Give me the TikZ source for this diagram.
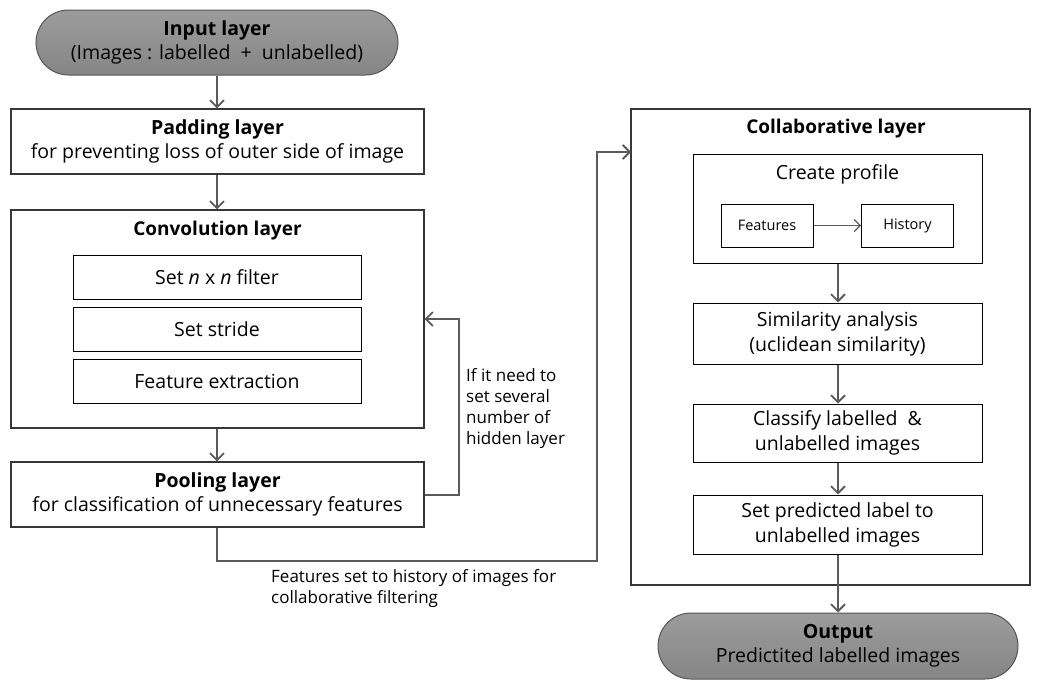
\documentclass[tikz,border=0pt]{standalone}
\usepackage{fontspec}
\setmainfont{Open Sans}
\usepackage{tikz}
\usetikzlibrary{arrows,arrows.meta,positioning,shapes.misc}
\definecolor{myline}{RGB}{90,90,90}
\definecolor{myborder}{RGB}{55,55,55}
\definecolor{mypill}{RGB}{145,145,145}
\tikzstyle{layer}=[draw=myborder,line width=1.2pt,minimum width=413pt,inner sep=0pt,align=center,font=\fontsize{19.5}{24}\selectfont]
\tikzstyle{subbox}=[draw=black,line width=1pt,minimum width=288pt,minimum height=44pt,inner sep=0pt,align=center,font=\fontsize{19.5}{25}\selectfont]
\tikzstyle{smallbox}=[draw=black,line width=1pt,minimum width=92pt,minimum height=43pt,inner sep=0pt,font=\fontsize{14.5}{18}\selectfont]
\tikzstyle{pill}=[rounded rectangle,draw=myborder!85,line width=1pt,top color=mypill!90,bottom color=mypill!92!black,inner sep=0pt,align=center,font=\fontsize{19.5}{24}\selectfont]
\tikzstyle{title}=[font=\fontsize{19}{22}\selectfont\bfseries]
\tikzstyle{note}=[inner sep=0pt,align=left,font=\fontsize{17}{21}\selectfont]
\tikzstyle{flow}=[myline,line width=2pt,-{Straight Barb[length=7pt,width=14pt,line width=1.8pt]}]

\begin{document}
\begin{tikzpicture}[x=1pt,y=-1pt]
\useasboundingbox (0,0) rectangle (1063,696);
% left column
\node [pill,minimum width=362pt,minimum height=65pt] (input) at (217,42.5) {\textbf{Input layer}\\(Images : labelled \ + \ unlabelled)};
\node [layer,minimum height=65pt] (padding) at (217.5,141.5) {\textbf{Padding layer}\\for preventing loss of outer side of image};
\node [layer,minimum height=218pt] (conv) at (217.5,319) {};
\node [title] (convtitle) at (217.5,231) {Convolution layer};
\node [subbox] (filter) at (217,277) {Set \textit{n} x \textit{n} filter};
\node [subbox] (stride) at (217,329) {Set stride};
\node [subbox] (extract) at (217,381) {Feature extraction};
\node [layer,minimum height=65pt] (pool) at (217.5,494.5) {\textbf{Pooling layer}\\for classification of unnecessary features};
% right column
\node [layer,minimum width=399pt,minimum height=476pt] (collab) at (830.5,347) {};
\node [title] (collabtitle) at (836,129) {Collaborative layer};
\node [subbox,minimum width=289pt,minimum height=109pt] (profile) at (837.5,208.5) {};
\node [font=\fontsize{19.5}{22}\selectfont] (profiletitle) at (837.5,174) {Create profile};
\node [smallbox] (features) at (767,225.5) {Features};
\node [smallbox] (history) at (907.5,225.5) {History};
\node [subbox,minimum width=289pt,minimum height=61pt] (similarity) at (837.5,333.5) {Similarity analysis\\(uclidean similarity)};
\node [subbox,minimum width=289pt,minimum height=58pt] (classify) at (837.5,433) {Classify labelled \ \&\\unlabelled images};
\node [subbox,minimum width=289pt,minimum height=59pt] (predict) at (837.5,524.5) {Set predicted label to\\unlabelled images};
\node [pill,minimum width=360pt,minimum height=66pt] (output) at (838,646) {\textbf{Output}\\Predictited labelled images};
% connectors
\coordinate (bend) at (597,561);
\coordinate (collabin) at (631,152);
\draw [flow] (input.south) -- (input.south |- padding.north);
\draw [flow] (input.south |- padding.south) -- (input.south |- conv.north);
\draw [flow] (input.south |- conv.south) -- (input.south |- pool.north);
\draw [flow] (pool.east) -- ++(34,0) |- (conv.east);
\draw [flow] (input.south |- pool.south) |- (bend) |- (collabin);
\draw [myline,line width=1.2pt,-{Straight Barb[length=6pt,width=12pt,line width=1.2pt]}] (features) -- (history);
\draw [flow] (output.north |- profile.south) -- (output.north |- similarity.north);
\draw [flow] (output.north |- similarity.south) -- (output.north |- classify.north);
\draw [flow] (output.north |- classify.south) -- (output.north |- predict.north);
\draw [flow] (output.north |- predict.south) -- (output.north);
% labels
\node [note,anchor=north west] (looplabel) at (466,368) {If it need to\\set several\\number of\\hidden layer};
\node [note,anchor=north west] (featlabel) at (271,569) {Features set to history of images for\\collaborative filtering};
\end{tikzpicture}
\end{document}
